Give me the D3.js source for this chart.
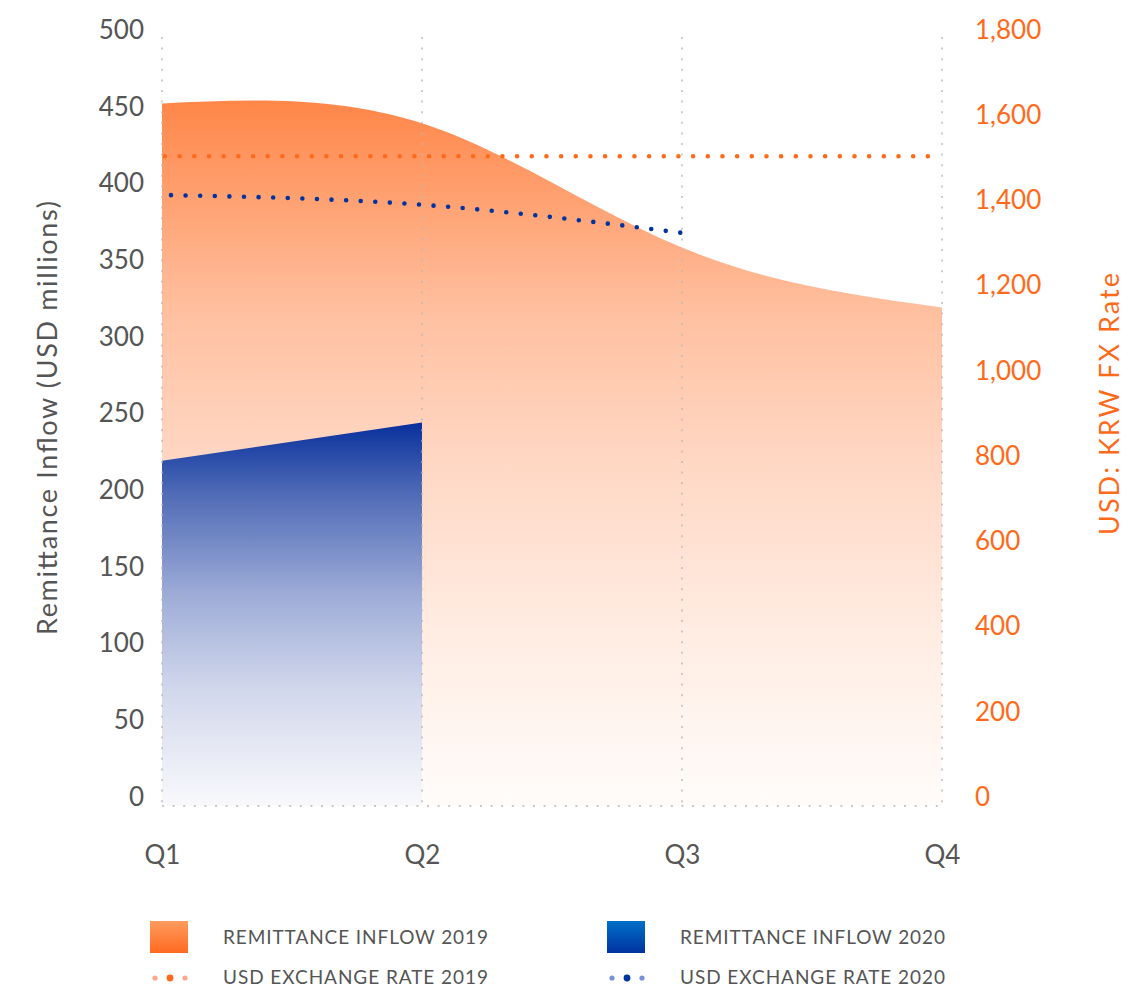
<!DOCTYPE html>
<html>
<head>
<meta charset="utf-8">
<script src="https://cdn.jsdelivr.net/npm/d3@7"></script>
<style>
  html, body { margin: 0; padding: 0; background: #ffffff; }
  svg { display: block; font-family: Lato, "Open Sans", sans-serif; }
</style>
</head>
<body>
<svg id="chart" width="1128" height="988"></svg>
<script>
// ---- data ----
const quarters = ["Q1", "Q2", "Q3", "Q4"];
const inflow2019 = [458, 445, 364, 325];
const inflow2020 = [225, 250];
const fx2019 = [1525, 1525, 1525, 1525];
const fx2020 = [1434, 1411, 1345];
const leftTicks = [0, 50, 100, 150, 200, 250, 300, 350, 400, 450, 500];
const rightTicks = [0, 200, 400, 600, 800, 1000, 1200, 1400, 1600, 1800];
const leftTitle = "Remittance Inflow (USD millions)";
const rightTitle = "USD: KRW FX Rate";
const legendItems = [
  { label: "REMITTANCE INFLOW 2019", kind: "area", series: "2019" },
  { label: "REMITTANCE INFLOW 2020", kind: "area", series: "2020" },
  { label: "USD EXCHANGE RATE 2019", kind: "dots", series: "2019" },
  { label: "USD EXCHANGE RATE 2020", kind: "dots", series: "2020" }
];

// ---- setup ----
const svg = d3.select("#chart");
const orange = "#ff6a1a";
const grey = "#555555";

const x = d3.scalePoint().domain(quarters).range([162, 942]);
const yL = d3.scaleLinear().domain([0, 500]).range([806, 39]);
const yR = d3.scaleLinear().domain([0, 1800]).range([806, 39]);

const defs = svg.append("defs");
function grad(id, x1, y1, x2, y2, stops) {
  const g = defs.append("linearGradient").attr("id", id)
    .attr("gradientUnits", "userSpaceOnUse")
    .attr("x1", x1).attr("y1", y1).attr("x2", x2).attr("y2", y2);
  stops.forEach(s => g.append("stop").attr("offset", s[0]).attr("stop-color", s[1]));
}
grad("g2019", 0, yL(460), 0, yL(0), [
  [0, "rgb(255,134,72)"], [0.3, "rgb(255,192,160)"], [0.5, "rgb(255,214,194)"],
  [0.75, "rgb(255,236,226)"], [1, "rgb(255,252,250)"]
]);
grad("g2020", 0, yL(250), 0, yL(0), [
  [0, "rgb(8,48,156)"], [0.18, "rgb(78,106,182)"], [0.45, "rgb(158,172,215)"],
  [0.7, "rgb(210,216,236)"], [1, "rgb(249,249,252)"]
]);
grad("leg2019", 0, 921, 0, 953, [[0, "#ff9b5e"], [1, "#ff6a20"]]);
grad("leg2020", 0, 921, 0, 953, [[0, "#0070c8"], [1, "#0033a0"]]);

// ---- areas ----
const area2019 = d3.area()
  .x((d, i) => x(quarters[i])).y0(yL(0)).y1(d => yL(d))
  .curve(d3.curveNatural);
svg.append("path").datum(inflow2019).attr("d", area2019).attr("fill", "url(#g2019)");

const area2020 = d3.area()
  .x((d, i) => x(quarters[i])).y0(yL(0)).y1(d => yL(d))
  .curve(d3.curveNatural);
svg.append("path").datum(inflow2020).attr("d", area2020).attr("fill", "url(#g2020)");

// ---- grid ----
const grid = svg.append("g");
quarters.forEach(q => {
  grid.append("line")
    .attr("x1", x(q)).attr("x2", x(q))
    .attr("y1", yL(500) - 2).attr("y2", yL(0))
    .attr("stroke", "#b8b8b8").attr("stroke-width", 1.4)
    .attr("stroke-dasharray", "2 8.6");
});
grid.append("line")
  .attr("x1", x("Q1")).attr("x2", x("Q4"))
  .attr("y1", yL(0)).attr("y2", yL(0))
  .attr("stroke", "#b8b8b8").attr("stroke-width", 1.4)
  .attr("stroke-dasharray", "2 8.6");

// ---- dotted FX lines ----
const fxLine = d3.line().x((d, i) => x(quarters[i])).y(d => yR(d)).curve(d3.curveMonotoneX);
svg.append("path").datum(fx2019).attr("d", fxLine)
  .attr("fill", "none").attr("stroke", orange).attr("stroke-width", 4.6)
  .attr("stroke-linecap", "round").attr("stroke-dasharray", "0 14.67")
  .attr("stroke-dashoffset", -3);
svg.append("path").datum(fx2020).attr("d", fxLine)
  .attr("fill", "none").attr("stroke", "#0033a0").attr("stroke-width", 4.6)
  .attr("stroke-linecap", "round").attr("stroke-dasharray", "0 14.6")
  .attr("stroke-dashoffset", -9);

// ---- axes ----
const leftAxis = d3.axisLeft(yL).tickValues(leftTicks).tickSize(0).tickPadding(0);
const gL = svg.append("g").attr("transform", "translate(144,-9)").call(leftAxis);
gL.select(".domain").remove();
gL.selectAll("text").attr("fill", grey).attr("font-size", 26)
  .attr("font-family", "Lato, sans-serif").attr("x", 0);

const rightAxis = d3.axisRight(yR).tickValues(rightTicks).tickSize(0).tickPadding(0)
  .tickFormat(d3.format(","));
const gR = svg.append("g").attr("transform", "translate(975,-9)").call(rightAxis);
gR.select(".domain").remove();
gR.selectAll("text").attr("fill", orange).attr("font-size", 26)
  .attr("font-family", "Lato, sans-serif").attr("x", 0);

const bottomAxis = d3.axisBottom(x).tickSize(0).tickPadding(0);
const gB = svg.append("g").attr("transform", "translate(0,846)").call(bottomAxis);
gB.select(".domain").remove();
gB.selectAll("text").attr("fill", grey).attr("font-size", 26)
  .attr("font-family", "Lato, sans-serif").attr("dy", "0.71em").attr("y", 0);

// ---- axis titles ----
svg.append("text")
  .attr("transform", "translate(57,418) rotate(-90)")
  .attr("text-anchor", "middle").attr("fill", grey).attr("font-size", 27)
  .attr("textLength", 434).attr("lengthAdjust", "spacing")
  .text(leftTitle);
svg.append("text")
  .attr("transform", "translate(1119,404) rotate(-90)")
  .attr("text-anchor", "middle").attr("fill", orange).attr("font-size", 27)
  .attr("textLength", 262).attr("lengthAdjust", "spacing")
  .text(rightTitle);

// ---- legend ----
const legPos = [
  { x: 150, y: 937 }, { x: 607, y: 937 }, { x: 150, y: 977 }, { x: 607, y: 977 }
];
legendItems.forEach((it, i) => {
  const p = legPos[i];
  const g = svg.append("g");
  if (it.kind === "area") {
    g.append("rect").attr("x", p.x).attr("y", p.y - 16).attr("width", 38).attr("height", 32)
      .attr("fill", it.series === "2019" ? "url(#leg2019)" : "url(#leg2020)");
  } else {
    const dark = it.series === "2019" ? orange : "#0033a0";
    const light = it.series === "2019" ? "#ffa88a" : "#7891d4";
    g.append("circle").attr("cx", p.x + 5).attr("cy", p.y + 1).attr("r", 2.6).attr("fill", light);
    g.append("circle").attr("cx", p.x + 20).attr("cy", p.y + 1).attr("r", 3.4).attr("fill", dark);
    g.append("circle").attr("cx", p.x + 35).attr("cy", p.y + 1).attr("r", 2.6).attr("fill", light);
  }
  g.append("text").attr("x", p.x + 73).attr("y", p.y).attr("dy", "0.36em")
    .attr("fill", grey).attr("font-size", 19)
    .attr("textLength", 265).attr("lengthAdjust", "spacing")
    .text(it.label);
});
</script>
</body>
</html>
